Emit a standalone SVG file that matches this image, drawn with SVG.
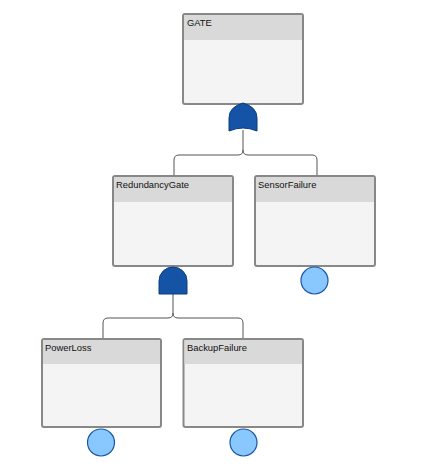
<svg xmlns="http://www.w3.org/2000/svg" width="430" height="470" viewBox="0 0 430 470">
<style>
.frame{fill:#f4f4f4;stroke:#888;stroke-width:2}
.hdr{fill:#d9d9d9}
.lbl{font-family:"Liberation Sans",Arial,sans-serif;font-size:9.4px;fill:#111}
.conn{fill:none;stroke:#555;stroke-width:1}
.gate{fill:#1553a6;stroke:#0d3d80;stroke-width:1}
.evt{fill:#88c8ff;stroke:#1a56a4;stroke-width:1.2}
</style>
<rect width="430" height="470" fill="#ffffff"/>
<g id="connectors">
<path class="conn" d="M243,130 V150 Q243,155 238,155 H179 Q174,155 174,160 V176"/>
<path class="conn" d="M243,150 Q243,155 248,155 H312 Q317,155 317,160 V176"/>
<path class="conn" d="M173,294 V313 Q173,318 168,318 H108 Q103,318 103,323 V339"/>
<path class="conn" d="M173,313 Q173,318 178,318 H238 Q243,318 243,323 V339"/>
</g>
<g id="GATE">
<rect class="frame" x="183" y="14" width="120" height="90" rx="2"/>
<rect class="hdr" x="184" y="15" width="118" height="25"/>
<text class="lbl" x="187" y="26">GATE</text>
<path class="gate" d="M229,131 V118 Q229,107 243,103 Q257,107 257,118 V131 Q243,125 229,131 Z"/>
</g>
<g id="RedundancyGate">
<rect class="frame" x="113" y="176" width="120" height="90" rx="2"/>
<rect class="hdr" x="114" y="177" width="118" height="25"/>
<text class="lbl" x="116" y="188">RedundancyGate</text>
<path class="gate" d="M159,294 V281 A14,14 0 0 1 187,281 V294 Z"/>
</g>
<g id="SensorFailure">
<rect class="frame" x="255" y="176" width="120" height="90" rx="2"/>
<rect class="hdr" x="256" y="177" width="118" height="25"/>
<text class="lbl" x="258" y="188">SensorFailure</text>
<circle class="evt" cx="314.5" cy="280.5" r="13.5"/>
</g>
<g id="PowerLoss">
<rect class="frame" x="42" y="339" width="119" height="88" rx="2"/>
<rect class="hdr" x="43" y="340" width="117" height="24"/>
<text class="lbl" x="45" y="351">PowerLoss</text>
<circle class="evt" cx="101" cy="442.5" r="13.5"/>
</g>
<g id="BackupFailure">
<rect class="frame" x="183.5" y="339" width="119.5" height="88" rx="2"/>
<rect class="hdr" x="184.5" y="340" width="117.5" height="24"/>
<text class="lbl" x="187" y="351">BackupFailure</text>
<circle class="evt" cx="243.5" cy="442.5" r="13.5"/>
</g>
</svg>
